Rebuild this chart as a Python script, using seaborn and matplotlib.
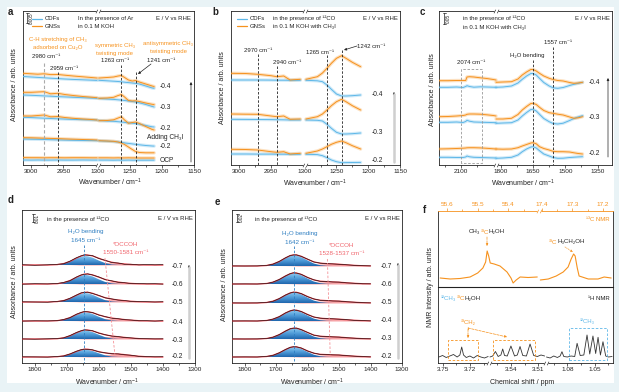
import numpy as np
import matplotlib
matplotlib.use('Agg')
import matplotlib.pyplot as plt
import seaborn as sns
from matplotlib.patches import Rectangle, FancyArrowPatch
from matplotlib.lines import Line2D
from matplotlib.path import Path
from matplotlib.colors import LinearSegmentedColormap
from matplotlib.offsetbox import TextArea, HPacker, AnnotationBbox

sns.set_theme(style='white')
plt.rcParams['font.family'] = ['Liberation Sans', 'DejaVu Sans']
plt.rcParams.update({'mathtext.fontset': 'custom', 'mathtext.rm': 'Liberation Sans',
                     'mathtext.it': 'Liberation Sans:italic', 'mathtext.bf': 'Liberation Sans:bold',
                     'axes.linewidth': 0.6, 'axes.edgecolor': '#222222'})

ORANGE = '#f6921e'; BLUE = '#5db7e8'; RED = '#e8343f'; PINK = '#f7a3a6'
TBLUE = '#2f7fc1'; TRED = '#f0646c'; DARK = '#222222'
W, H = 619, 392

# ---------------- data (spectra, arb. units = depth below top) -------------
pot3 = ['-0.4', '-0.3', '-0.2']
# panel a
a_wn_L = [3013, 3000, 2990, 2980, 2970, 2959, 2948, 2935, 2920, 2905, 2898]
a_wn_R = [1298, 1285, 1275, 1268, 1263, 1258, 1252, 1246, 1241, 1235, 1225, 1215, 1212]
a_keys = ['-0.4', '-0.3', '-0.2', 'add', 'OCP']
a_GNS_L = {'-0.4': [73.3, 73.8, 74.2, 73.8, 74.6, 74.5, 75.2, 76, 76.8, 77.6, 78],
           '-0.3': [92.3, 92.3, 92, 91.7, 93.8, 93.3, 94.5, 95.5, 96.5, 97.3, 97.7],
           '-0.2': [116, 116, 115.5, 115, 116.8, 116.5, 117.5, 118.3, 119, 119.6, 120],
           'add': [137.7, 137.8, 138, 138.2, 138.4, 138.6, 138.9, 139.2, 139.5, 139.8, 140],
           'OCP': [157.6, 157.7, 157.7, 157.8, 157.7, 157.7, 157.8, 157.7, 157.7, 157.8, 157.8]}
a_GNS_R = {'-0.4': [78, 77.5, 77, 76, 75.5, 77.5, 80, 81, 80.5, 82, 84, 86, 86.5],
           '-0.3': [98.3, 98, 97.3, 95.5, 94.5, 97, 100.5, 101, 100.8, 101.5, 103, 104.3, 104.5],
           '-0.2': [120.7, 120.5, 119.8, 118, 116.8, 120, 123.3, 122.5, 122, 123.5, 126.5, 129.5, 130],
           'add': [140.7, 141, 141.3, 142, 143, 144.5, 147, 149.5, 151.5, 152.5, 152.8, 152.8, 152.8],
           'OCP': [157.8, 157.8, 157.9, 157.8, 157.9, 157.9, 157.8, 157.9, 157.9, 158, 158, 158, 158]}
a_CDF_L = {'-0.4': [76.5, 77, 77.4, 77.8, 78.2, 78.6, 79, 79.4, 79.8, 80.2, 80.4],
           '-0.3': [95, 95.3, 95.6, 95.9, 96.2, 96.6, 96.9, 97.3, 97.7, 98.1, 98.3],
           '-0.2': [117.3, 117.6, 117.9, 118.2, 118.5, 118.8, 119.1, 119.4, 119.7, 119.9, 120],
           'add': [139, 139.2, 139.3, 139.5, 139.7, 139.9, 140.1, 140.3, 140.5, 140.6, 140.7],
           'OCP': [160.0, 160.1, 160.0, 160.1, 160.1, 160.0, 160.1, 160.1, 160.0, 160.1, 160.1]}
a_CDF_R = {'-0.4': [80.3, 80.8, 81.2, 81.5, 81.8, 82.2, 82.6, 83, 83.4, 84, 86, 88, 88.3],
           '-0.3': [98.5, 99, 99.4, 99.8, 100.1, 100.5, 101, 101.5, 102, 102.8, 104.5, 106.5, 107],
           '-0.2': [120.5, 121, 121.3, 121.7, 122, 122.4, 122.8, 123.2, 123.6, 124.2, 125.5, 126.8, 127],
           'add': [140.8, 141.2, 141.6, 142, 142.4, 142.9, 143.4, 143.9, 144.3, 144.8, 145.5, 146, 146.1],
           'OCP': [160.1, 160.1, 160.2, 160.1, 160.2, 160.2, 160.1, 160.2, 160.2, 160.2, 160.2, 160.2, 160.2]}
# panel b
b_wn_L = [3013, 2990, 2971, 2950, 2941, 2930, 2920, 2904]
b_wn_R = [1298, 1280, 1272, 1265, 1258, 1250, 1242, 1235, 1225, 1212]
b_GNS_L = {'-0.4': [73.3, 73.5, 74.3, 75.7, 76.7, 76, 80, 79.3],
           '-0.3': [114, 114.2, 114.3, 116, 116.7, 116, 119.3, 119],
           '-0.2': [149.3, 149.5, 150, 151.7, 152.3, 151.7, 154, 153.3]}
b_GNS_R = {'-0.4': [79.3, 76.7, 73, 68.3, 63.3, 58.3, 55.7, 58.3, 62.3, 66.7],
           '-0.3': [119, 116.7, 114, 110, 105.7, 101.7, 99.3, 101.7, 105.7, 110],
           '-0.2': [153.3, 151, 149, 146.7, 144.3, 142.3, 141, 142.7, 145.7, 149]}
b_CDF_L = {'-0.4': [80, 80, 80, 80.1, 80.2, 80.2, 80.3, 80.3],
           '-0.3': [119.3, 119.4, 119.5, 119.6, 119.7, 119.8, 120, 120],
           '-0.2': [154, 154, 154.1, 154.1, 154.2, 154.2, 154.3, 154.3]}
b_CDF_R = {'-0.4': [80.3, 80.8, 81.7, 85, 89.3, 94, 96, 96, 95.7, 95],
           '-0.3': [120, 120.3, 121, 124.3, 128.3, 132.3, 134, 134, 133.7, 133],
           '-0.2': [154.3, 154.6, 155.7, 157.7, 160, 161.7, 162.7, 162.6, 162.5, 162.4]}
# panel c
c_wn_L = [2202, 2160, 2120, 2090, 2078, 2072, 2060, 2040, 2010, 1980, 1950, 1937]
c_wn_R = [1822, 1790, 1750, 1720, 1700, 1680, 1660, 1650, 1635, 1620, 1600, 1575, 1557, 1535, 1510, 1480, 1460, 1440, 1420]
c_GNS_L = {'-0.4': [80.7, 80.7, 80.5, 80.5, 80.5, 77, 76.7, 77, 77.8, 78.5, 79.5, 80],
           '-0.3': [116.7, 116.5, 116, 115.5, 115, 114.3, 114, 114, 114.2, 114.8, 115.5, 116],
           '-0.2': [149, 148.8, 148.5, 148.2, 148, 147.8, 147.7, 147.7, 147.9, 148.3, 148.8, 149]}
c_CDF_L = {'-0.4': [87.3, 87.3, 87, 87.5, 86.5, 85.7, 86.5, 87.2, 86.8, 87, 87.2, 87.3],
           '-0.3': [122.3, 122.3, 122, 122.5, 121.5, 120.3, 121.2, 122, 122.2, 122.4, 122.6, 122.7],
           '-0.2': [157.3, 157.3, 157.5, 157.5, 157, 156, 156.8, 157.3, 157.5, 157.7, 157.9, 158]}
c_GNS_R = {'-0.4': [82.3, 82, 81.7, 79, 75, 72, 69.5, 69.5, 71, 73.3, 76, 78.3, 79.5, 80.5, 81, 82.5, 83.3, 83, 82.3],
           '-0.3': [119, 119, 118.3, 114.5, 110, 106.5, 103.5, 103.3, 104.5, 107.3, 110.5, 112.7, 113.3, 114.2, 115, 117, 118.3, 117.8, 116.7],
           '-0.2': [149, 149.2, 149, 147.7, 146, 144.5, 143, 142.7, 143.8, 146.7, 148.5, 150, 151.3, 151.7, 151.7, 152, 152.8, 153.5, 154]}
c_CDF_R = {'-0.4': [87.3, 87, 86, 83, 79.3, 76, 73.5, 73.5, 75, 78.3, 82.5, 86, 87.8, 88.3, 87.5, 85.5, 84.3, 83.3, 82.3],
           '-0.3': [123.3, 123, 122.7, 120, 116, 112.5, 109.5, 109.3, 111, 114.3, 118.5, 121.7, 123.5, 124, 123.2, 120.5, 118.5, 117, 115.7],
           '-0.2': [158.3, 158, 157.3, 155, 151.7, 149, 147, 146.7, 148, 150.7, 154, 156, 157.5, 158.3, 158.2, 157.5, 157.2, 156.9, 156.7]}
# panels d, e (peak fits + raw, heights above each baseline)
pot6 = ['-0.7', '-0.6', '-0.5', '-0.4', '-0.3', '-0.2']
de_wn = [1840, 1800, 1760, 1730, 1710, 1690, 1670, 1655, 1645, 1635, 1620, 1600, 1580, 1560, 1540, 1520, 1500, 1475, 1450, 1425, 1400]
d_base = [265, 284, 302, 321, 339, 357]
d_blue = {'-0.7': [0, 0, 0, 0.4, 1.4, 3.5, 6.6, 8.4, 9, 8.8, 7.4, 4.4, 1.9, 0.5, 0.1, 0, 0, 0, 0, 0, 0],
          '-0.6': [0, 0, 0, 0.3, 1.3, 3.4, 6.5, 8.4, 9.1, 8.9, 7.6, 4.6, 2.0, 0.6, 0.1, 0, 0, 0, 0, 0, 0],
          '-0.5': [0, 0, 0, 0.4, 1.4, 3.5, 6.6, 8.5, 9, 8.8, 7.3, 4.3, 1.8, 0.5, 0.1, 0, 0, 0, 0, 0, 0],
          '-0.4': [0, 0, 0, 0.35, 1.3, 3.4, 6.4, 8.1, 8.7, 8.5, 7.1, 4.2, 1.8, 0.5, 0.1, 0, 0, 0, 0, 0, 0],
          '-0.3': [0, 0, 0, 0.3, 1.2, 3.2, 6.2, 7.9, 8.5, 8.3, 7.0, 4.2, 1.8, 0.5, 0.1, 0, 0, 0, 0, 0, 0],
          '-0.2': [0, 0, 0, 0.3, 1.1, 2.9, 5.5, 7.0, 7.5, 7.3, 6.1, 3.7, 1.6, 0.45, 0.1, 0, 0, 0, 0, 0, 0]}
d_red = {'-0.7': [0, 0, 0, 0, 0.04, 0.13, 0.35, 0.65, 0.9, 1.2, 1.7, 2.3, 2.5, 2.25, 1.65, 1.0, 0.5, 0.16, 0.04, 0, 0],
         '-0.6': [0, 0, 0, 0, 0.03, 0.1, 0.28, 0.55, 0.8, 1.05, 1.55, 2.2, 2.5, 2.35, 1.8, 1.15, 0.6, 0.2, 0.05, 0.01, 0],
         '-0.5': [0, 0, 0, 0, 0.02, 0.08, 0.22, 0.45, 0.68, 0.92, 1.4, 2.05, 2.45, 2.4, 1.95, 1.3, 0.72, 0.26, 0.07, 0.01, 0],
         '-0.4': [0, 0, 0, 0, 0.02, 0.06, 0.17, 0.37, 0.57, 0.8, 1.25, 1.9, 2.4, 2.45, 2.05, 1.45, 0.85, 0.32, 0.09, 0.02, 0],
         '-0.3': [0, 0, 0, 0, 0.01, 0.05, 0.13, 0.3, 0.48, 0.7, 1.12, 1.8, 2.35, 2.5, 2.15, 1.6, 0.98, 0.4, 0.12, 0.03, 0],
         '-0.2': [0, 0, 0, 0, 0, 0.02, 0.08, 0.2, 0.32, 0.5, 0.9, 1.6, 2.4, 2.9, 2.9, 2.4, 1.6, 0.75, 0.25, 0.06, 0.01]}
d_raw = {'-0.7': [0.3, -0.3, 0.2, 0.7, 1.2, 3.9, 7.3, 9.2, 10.3, 9.8, 9.4, 6.4, 4.7, 2.4, 2.0, 0.7, 0.8, 0.1, 0.5, 0.2, 0.4],
         '-0.6': [-0.2, 0.3, 0.1, 0.5, 1.6, 3.3, 7.0, 9.1, 9.6, 10.2, 9.0, 7.1, 4.3, 3.2, 1.7, 1.3, 0.4, 0.5, 0.2, 0.3, -0.1],
         '-0.5': [0.2, 0, -0.2, 0.6, 1.3, 3.8, 6.9, 9.2, 9.5, 9.9, 8.5, 6.6, 4.1, 3.1, 1.9, 1.5, 0.6, 0.4, 0.3, 0, 0.3],
         '-0.4': [-0.1, 0.2, 0.1, 0.3, 1.5, 3.3, 6.8, 8.6, 9.5, 9.1, 8.5, 5.9, 4.4, 2.8, 2.3, 1.3, 1.0, 0.2, 0.3, -0.1, 0.4],
         '-0.3': [0.1, -0.2, 0.2, 0.4, 1.1, 3.5, 6.5, 8.3, 9.2, 8.8, 8.3, 5.8, 4.3, 2.9, 2.4, 1.5, 1.1, 0.3, 0.3, 0.1, 0.2],
         '-0.2': [0.2, 0.1, -0.1, 0.5, 1.0, 3.1, 5.8, 7.4, 7.9, 7.6, 7.2, 5.1, 4.2, 3.2, 3.1, 2.2, 1.8, 0.6, 0.4, 0.2, 0.3]}
e_base = [266, 284, 303, 321, 339, 357]
e_blue = {'-0.7': [0, 0, 0, 0.5, 1.9, 4.4, 8.0, 10.2, 10.8, 10.6, 9.0, 5.6, 2.5, 0.8, 0.2, 0, 0, 0, 0, 0, 0],
          '-0.6': [0, 0, 0, 0.5, 1.8, 4.4, 8.0, 10.1, 10.8, 10.6, 8.9, 5.5, 2.5, 0.8, 0.2, 0, 0, 0, 0, 0, 0],
          '-0.5': [0, 0, 0, 0.5, 1.8, 4.3, 7.8, 9.9, 10.5, 10.3, 8.7, 5.4, 2.4, 0.8, 0.2, 0, 0, 0, 0, 0, 0],
          '-0.4': [0, 0, 0, 0.5, 1.8, 4.3, 7.9, 10.0, 10.6, 10.4, 8.8, 5.5, 2.4, 0.8, 0.2, 0, 0, 0, 0, 0, 0],
          '-0.3': [0, 0, 0, 0.5, 1.8, 4.3, 7.9, 10.0, 10.6, 10.4, 8.8, 5.5, 2.4, 0.8, 0.2, 0, 0, 0, 0, 0, 0],
          '-0.2': [0, 0, 0, 0.5, 1.7, 4.1, 7.4, 9.4, 10, 9.8, 8.3, 5.1, 2.3, 0.75, 0.2, 0, 0, 0, 0, 0, 0]}
e_red = {'-0.7': [0, 0, 0, 0, 0.01, 0.04, 0.12, 0.22, 0.32, 0.45, 0.7, 1.15, 1.62, 2.0, 2.2, 2.08, 1.75, 1.15, 0.62, 0.27, 0.1],
         '-0.6': [0, 0, 0, 0, 0.01, 0.04, 0.11, 0.2, 0.3, 0.42, 0.66, 1.1, 1.58, 1.98, 2.2, 2.1, 1.8, 1.2, 0.66, 0.3, 0.11],
         '-0.5': [0, 0, 0, 0, 0.01, 0.04, 0.1, 0.19, 0.28, 0.4, 0.63, 1.06, 1.55, 1.96, 2.2, 2.12, 1.84, 1.25, 0.7, 0.32, 0.12],
         '-0.4': [0, 0, 0, 0, 0.01, 0.04, 0.1, 0.19, 0.28, 0.4, 0.63, 1.06, 1.55, 1.96, 2.2, 2.12, 1.84, 1.25, 0.7, 0.32, 0.12],
         '-0.3': [0, 0, 0, 0, 0.01, 0.03, 0.09, 0.17, 0.26, 0.38, 0.6, 1.02, 1.5, 1.94, 2.2, 2.14, 1.88, 1.3, 0.74, 0.35, 0.13],
         '-0.2': [0, 0, 0, 0, 0.01, 0.03, 0.08, 0.16, 0.24, 0.36, 0.58, 0.98, 1.46, 1.92, 2.2, 2.16, 1.92, 1.35, 0.78, 0.38, 0.15]}
e_raw = {'-0.7': [0.1, 0, 0.1, 0.6, 1.8, 4.6, 8.2, 10.5, 11.0, 11.1, 9.6, 6.9, 4.0, 2.9, 2.3, 2.1, 1.7, 1.2, 0.6, 0.3, 0.1],
         '-0.6': [0, 0.1, 0, 0.4, 1.9, 4.5, 8.0, 10.4, 11.2, 10.9, 9.7, 6.5, 4.2, 2.7, 2.5, 2.0, 1.9, 1.1, 0.7, 0.2, 0.2],
         '-0.5': [0.1, 0, 0.1, 0.6, 1.7, 4.4, 8.0, 10.0, 10.9, 10.6, 9.4, 6.3, 4.1, 2.7, 2.5, 2.0, 1.9, 1.2, 0.8, 0.3, 0.1],
         '-0.4': [0, 0.1, 0, 0.5, 1.9, 4.3, 8.1, 10.1, 11.0, 10.7, 9.5, 6.4, 4.0, 2.9, 2.3, 2.2, 1.8, 1.3, 0.6, 0.4, 0.1],
         '-0.3': [0.1, 0, 0.1, 0.4, 1.8, 4.4, 7.9, 10.3, 10.8, 10.9, 9.3, 6.6, 3.8, 2.8, 2.5, 2.1, 1.9, 1.2, 0.8, 0.3, 0.2],
         '-0.2': [0, 0.1, 0, 0.6, 1.6, 4.2, 7.5, 9.7, 10.2, 10.1, 9.0, 6.0, 3.9, 2.6, 2.5, 2.1, 2.0, 1.3, 0.8, 0.4, 0.1]}
# panel f  (13C top, 1H bottom)
f13_L_ppm = [55.623, 55.59, 55.558, 55.525, 55.50, 55.483, 55.474, 55.469, 55.464, 55.459, 55.446, 55.427, 55.404, 55.391, 55.384, 55.374, 55.361, 55.335, 55.305]
f13_L_y = [278, 279, 278.5, 277, 273, 268, 262, 251, 256, 263, 264, 266, 272, 278, 283, 280, 277, 277.5, 277]
f13_R_ppm = [17.405, 17.379, 17.353, 17.33, 17.314, 17.304, 17.296, 17.291, 17.284, 17.278, 17.248, 17.216, 17.196, 17.173]
f13_R_y = [280, 279, 276, 272, 267, 259, 254, 256, 268, 276, 279, 279, 277, 278]
f1_s1_ppm = [3.754, 3.750, 3.746, 3.742, 3.738, 3.734, 3.731, 3.729, 3.727, 3.724, 3.720, 3.716, 3.712, 3.708, 3.704, 3.700]
f1_s1_y = [357, 355.5, 357.5, 356, 354.5, 357, 355, 347, 355, 357.5, 356, 358, 355.5, 357, 358, 356.5]
f1_s2_ppm = [3.563, 3.560, 3.557, 3.554, 3.551, 3.549, 3.547, 3.544, 3.540, 3.536, 3.533, 3.530, 3.527, 3.523, 3.519, 3.515, 3.511, 3.507, 3.503]
f1_s2_y = [357, 356, 351.5, 356.5, 355, 349, 355.5, 356, 346, 356, 355, 346.5, 355.5, 356, 344, 355.5, 356.5, 355, 356]
f1_s3_ppm = [1.103, 1.099, 1.095, 1.091, 1.088, 1.086, 1.084, 1.080, 1.076, 1.072, 1.0694, 1.066, 1.062, 1.0585, 1.0555, 1.052, 1.049, 1.0464, 1.0438, 1.041, 1.038, 1.035, 1.031]
f1_s3_y = [357, 358, 356, 357.5, 356, 351.7, 356.5, 357, 356, 356.5, 343.3, 355.5, 355, 335, 354, 336, 353.5, 337.3, 355, 341.7, 356, 357, 356.5]

# ---------------- helpers ----------------
fig = plt.figure(figsize=(W / 100, H / 100), dpi=100)
fig.patch.set_facecolor('#e9f3f6')
fig.add_artist(Rectangle((7 / W, 1 - 383 / H), 607 / W, 376 / H, transform=fig.transFigure,
                         fc='white', ec='none', zorder=-5))

SLASH = Path([(-1.7, -1.2), (-0.5, 1.2), (0.5, -1.2), (1.7, 1.2)],
             [Path.MOVETO, Path.LINETO, Path.MOVETO, Path.LINETO])


def add_ax(x0, y0, x1, y1):
    ax = fig.add_axes([x0 / W, 1 - y1 / H, (x1 - x0) / W, (y1 - y0) / H])
    ax.set_facecolor('none')
    ax.set_ylim(-y1, -y0)
    ax.tick_params(axis='y', left=False, labelleft=False)
    ax.tick_params(axis='x', which='both', bottom=True, direction='out', width=0.5,
                   labelsize=4.6, pad=1.2, colors=DARK)
    ax.tick_params(axis='x', which='major', length=2)
    ax.tick_params(axis='x', which='minor', length=1.2)
    for s in ax.spines.values():
        s.set_linewidth(0.6); s.set_color(DARK)
    return ax


def broken(ax, segs, ticks, labels, minor, marks=(0, 1), mcolor=DARK):
    asc = sorted((lo, hi) for hi, lo in segs)
    xs, ts, t = [], [], 0.0
    for i, (lo, hi) in enumerate(asc):
        if i:
            t += (lo - asc[i - 1][1]) * 1e-6
        xs += [lo, hi]; ts += [t, t + hi - lo]; t += hi - lo
    xs = np.array(xs, float); ts = np.array(ts, float)

    def fwd(v):
        v = np.asarray(v, float)
        out = np.interp(v, xs, ts)
        out = np.where(v < xs[0], ts[0] + v - xs[0], out)
        return np.where(v > xs[-1], ts[-1] + v - xs[-1], out)

    def inv(v):
        v = np.asarray(v, float)
        out = np.interp(v, ts, xs)
        out = np.where(v < ts[0], xs[0] + v - ts[0], out)
        return np.where(v > ts[-1], xs[-1] + v - ts[-1], out)

    ax.set_xscale('function', functions=(fwd, inv))
    ax.set_xlim(segs[0][0], segs[-1][1])
    ax.set_xticks(ticks); ax.set_xticklabels(labels); ax.set_xticks(minor, minor=True)
    for hi, lo in segs[:-1]:
        for yy in marks:
            c = mcolor if yy == 1 else DARK
            ax.plot([lo], [yy], transform=ax.get_xaxis_transform(), marker='s', ms=2.4, mfc='white',
                    mec='none', clip_on=False, zorder=7)
            ax.plot([lo], [yy], transform=ax.get_xaxis_transform(), marker=SLASH, ms=3.6, mfc='none',
                    mec=c, mew=0.45, clip_on=False, zorder=8)


def spec(ax, x, depth, color, band=True, lw=0.7, z=3):
    y = -np.asarray(depth, float)
    if band:
        sns.lineplot(x=x, y=y, ax=ax, color=color, lw=2.4, alpha=0.28, sort=False,
                     estimator=None, legend=False, zorder=z)
    sns.lineplot(x=x, y=y, ax=ax, color=color, lw=lw, sort=False, estimator=None,
                 legend=False, zorder=z + 0.5)


def T(x, y, s, fs=4.3, color=DARK, ha='left', va='center', **kw):
    fig.text(x / W, 1 - y / H, s, fontsize=fs, color=color, ha=ha, va=va, **kw)


def arrow(x0, y0, x1, y1, color=DARK, lw=0.5, ls='-', ms=3.5):
    fig.add_artist(FancyArrowPatch((x0 / W, 1 - y0 / H), (x1 / W, 1 - y1 / H),
                                   transform=fig.transFigure, arrowstyle='-|>', mutation_scale=ms,
                                   color=color, lw=lw, linestyle=ls, shrinkA=0, shrinkB=0))


def gray_arrow(x, y0, y1):
    fig.add_artist(Line2D([x / W, x / W], [1 - y0 / H, 1 - (y1 + 2) / H], transform=fig.transFigure,
                          color='#cfcfcf', lw=1.8))
    arrow(x, y1 + 3, x, y1, color=DARK, lw=0.4, ms=3)


def sbar(x, y0, y1, label):
    for xs_, ys_ in (([x, x], [y0, y1]), ([x - 1.5, x + 1.5], [y0, y0]), ([x - 1.5, x + 1.5], [y1, y1])):
        fig.add_artist(Line2D([v / W for v in xs_], [1 - v / H for v in ys_], transform=fig.transFigure,
                              color=DARK, lw=0.5))
    T(x + 4, (y0 + y1) / 2, label, fs=3.4, rotation=90, ha='center')


def legline(x0, x1, y, color):
    fig.add_artist(Line2D([x0 / W, x1 / W], [1 - y / H, 1 - y / H], transform=fig.transFigure,
                          color=color, lw=0.9))


def ctext(ax, x, y, parts, fs=4.4, ha='left'):
    boxes = [TextArea(s, textprops=dict(color=c, fontsize=fs)) for s, c in parts]
    pk = HPacker(children=boxes, align='baseline', pad=0, sep=0)
    al = {'left': (0, 0.5), 'center': (0.5, 0.5), 'right': (1, 0.5)}[ha]
    ab = AnnotationBbox(pk, (x / W, 1 - y / H), xycoords='figure fraction', box_alignment=al,
                        frameon=False, pad=0)
    ax.add_artist(ab)


def vdash(ax, x, d0, d1, color=DARK, lw=0.6):
    ax.plot([x, x], [-d0, -d1], color=color, lw=lw, ls=(0, (3, 2)), zorder=5)


def ylab(x, y, s):
    T(x, y, s, fs=5, rotation=90, ha='center')


def xlab(x, y, s):
    T(x, y, s, fs=5, ha='center')


ab_segs = [(3013, 2897), (1300, 1150)]
ab_ticks = [3000, 2950, 1300, 1250, 1200, 1150]
ab_minor = [2975, 2925, 1275, 1225, 1175]

# ---------------- panel a ----------------
ax = add_ax(23, 11, 194, 165)
for k in a_keys:
    spec(ax, a_wn_L, a_CDF_L[k], BLUE); spec(ax, a_wn_R, a_CDF_R[k], BLUE)
    spec(ax, a_wn_L, a_GNS_L[k], ORANGE); spec(ax, a_wn_R, a_GNS_R[k], ORANGE)
broken(ax, ab_segs, ab_ticks, [str(t) for t in ab_ticks], ab_minor)
ax.set_ylim(-165, -11)
vdash(ax, 2980, 63, 165, color='#aaaaaa', lw=0.8)
vdash(ax, 2959, 72, 165)
vdash(ax, 1263, 65, 165)
vdash(ax, 1241, 72, 165)
T(8, 12, 'a', fs=7, weight='bold')
sbar(27, 13, 23, '0.005')
legline(32, 42, 19, BLUE); T(45, 19, 'CDFs')
legline(32, 42, 26, ORANGE); T(45, 26, 'GNSs')
T(78, 18.5, 'In the presence of Ar'); T(78, 26.5, 'in 0.1 M KOH')
T(191, 18, 'E / V vs RHE', ha='right')
T(58, 39, 'C-H stretching of CH₃', color=ORANGE, ha='center')
T(58, 47, 'adsorbed on Cu₂O', color=ORANGE, ha='center')
T(46, 57, '2980 cm⁻¹', ha='center'); T(64, 69, '2959 cm⁻¹', ha='center')
T(115, 45, 'symmetric CH₃', color=ORANGE, ha='center')
T(115, 53, 'twisting mode', color=ORANGE, ha='center')
T(115, 61, '1263 cm⁻¹', ha='center')
T(168, 43, 'antisymmetric CH₃', color=ORANGE, ha='center')
T(168, 51, 'twisting mode', color=ORANGE, ha='center')
T(161, 60, '1241 cm⁻¹', ha='center')
arrow(151, 64, 138, 74)
for lab, yy in zip(['-0.4', '-0.3', '-0.2'], [86, 107.5, 128.5]):
    T(160, yy, lab, fs=4.8)
T(147, 137.5, 'Adding CH₃I', fs=4.8)
T(160, 147, '-0.2', fs=4.8); T(160, 160, 'OCP', fs=4.8)
arrow(191, 162, 191, 82)
ylab(15, 85, 'Absorbance / arb. units'); xlab(110, 182, 'Wavenumber / cm$^{-1}$')

# ---------------- panel b ----------------
ax = add_ax(231, 11, 400, 165)
for k in pot3:
    spec(ax, b_wn_L, b_CDF_L[k], BLUE); spec(ax, b_wn_R, b_CDF_R[k], BLUE)
    spec(ax, b_wn_L, b_GNS_L[k], ORANGE); spec(ax, b_wn_R, b_GNS_R[k], ORANGE)
broken(ax, ab_segs, ab_ticks, [str(t) for t in ab_ticks], ab_minor)
ax.set_ylim(-165, -11)
vdash(ax, 2970, 54, 165); vdash(ax, 2940, 66, 165)
vdash(ax, 1265, 55, 165); vdash(ax, 1242, 50, 165)
T(212, 12, 'b', fs=7, weight='bold')
legline(237, 247, 19, BLUE); T(250, 19, 'CDFs')
legline(237, 247, 26, ORANGE); T(250, 26, 'GNSs')
T(273, 18.5, 'in the presence of ¹²CO'); T(273, 26.5, 'in 0.1 M KOH with CH₃I')
T(398, 19, 'E / V vs RHE', ha='right')
T(258, 50, '2970 cm⁻¹', ha='center'); T(287, 63, '2940 cm⁻¹', ha='center')
T(320, 52, '1265 cm⁻¹', ha='center'); T(371, 46, '1242 cm⁻¹', ha='center')
arrow(357, 46, 344, 50)
for lab, yy in zip(pot3, [95, 132.7, 160.7]):
    T(372, yy, lab, fs=4.8)
gray_arrow(394, 162, 92)
ylab(223, 88, 'Absorbance / arb. units'); xlab(315, 183, 'Wavenumber / cm$^{-1}$')

# ---------------- panel c ----------------
ax = add_ax(439, 11, 612, 165)
for k in pot3:
    spec(ax, c_wn_L, c_CDF_L[k], BLUE); spec(ax, c_wn_R, c_CDF_R[k], BLUE)
    spec(ax, c_wn_L, c_GNS_L[k], ORANGE); spec(ax, c_wn_R, c_GNS_R[k], ORANGE)
broken(ax, [(2202, 1937), (1822, 1283)], [2100, 1800, 1650, 1500, 1350],
       ['2100', '1800', '1650', '1500', '1350'], [2175, 2025, 1725, 1575, 1425])
ax.set_ylim(-165, -11)
vdash(ax, 1650, 60, 165); vdash(ax, 1557, 47, 165)
ax.plot([2100, 2100, 2000, 2000, 2100], [-163, -69, -69, -163, -163], color='#999999', lw=0.6,
        ls=(0, (3, 2)), zorder=5)
T(420, 12, 'c', fs=7, weight='bold')
sbar(444, 13, 24, '0.05')
T(463, 18.5, 'in the presence of ¹²CO'); T(463, 27, 'in 0.1 M KOH with CH₃I')
T(610, 19, 'E / V vs RHE', ha='right')
T(558, 43, '1557 cm⁻¹', ha='center'); T(527, 56, 'H₂O bending', ha='center')
T(471, 62, '2074 cm⁻¹', ha='center')
for lab, yy in zip(pot3, [82, 117, 154]):
    T(589, yy, lab, fs=4.8)
arrow(608, 157, 608, 78)
ylab(433, 90, 'Absorbance / arb. units'); xlab(523, 183, 'Wavenumber / cm$^{-1}$')

# ---------------- panels d, e ----------------
cmap_b = LinearSegmentedColormap.from_list('hb', ['#1f66ad', '#4f9bd8', '#8ccaf0'])


def fit_panel(ax, base, blue, red, raw):
    x = np.array(de_wn, float)
    for k, b0 in zip(pot6, base):
        yb = -float(b0)
        bl = np.array(blue[k]); rd = np.array(red[k])
        ax.fill_between(x, yb, yb + rd, color=PINK, lw=0, zorder=1)
        poly = ax.fill_between(x, yb, yb + bl, color='none', lw=0, zorder=2)
        im = ax.imshow(np.linspace(0, 1, 64).reshape(-1, 1), extent=[x.min(), x.max(), yb, yb + bl.max()],
                       origin='lower', aspect='auto', cmap=cmap_b, zorder=2)
        im.set_clip_path(poly.get_paths()[0], transform=ax.transData)
        sns.lineplot(x=x, y=yb + bl + rd, ax=ax, color=RED, lw=0.9, sort=False, estimator=None,
                     legend=False, zorder=3)
        sns.lineplot(x=x, y=yb + np.array(raw[k]), ax=ax, color='#1a1a1a', lw=0.45, sort=False,
                     estimator=None, legend=False, zorder=4)
    ax.set_xlim(1840, 1300)
    ax.set_xticks([1800, 1700, 1600, 1500, 1400, 1300])
    ax.set_xticks([1750, 1650, 1550, 1450, 1350], minor=True)


ax = add_ax(22, 210, 195, 363)
fit_panel(ax, d_base, d_blue, d_red, d_raw)
ax.set_ylim(-363, -210)
vdash(ax, 1645, 245, 363, color=TBLUE)
ax.plot([1581, 1550], [-258, -355], color='#f59096', lw=0.6, ls=(0, (3, 2)), zorder=5)
T(8, 200, 'd', fs=7, weight='bold')
sbar(33, 214, 222, '0.01')
T(47, 219, 'in the presence of ¹²CO'); T(193, 219, 'E / V vs RHE', ha='right')
T(86, 232, 'H₂O bending', color=TBLUE, ha='center', fs=4.5)
T(86, 241, '1645 cm⁻¹', color=TBLUE, ha='center', fs=4.5)
T(126, 245, '*OCCOH', color=TRED, ha='center', fs=4.5)
T(126, 252.5, '1550-1581 cm⁻¹', color=TRED, ha='center', fs=4.5)
for lab, yy in zip(pot6, [266, 285, 303, 322, 340, 357]):
    T(172, yy, lab, fs=4.8)
gray_arrow(189, 358, 265)
ylab(15, 282, 'Absorbance / arb. units'); xlab(107, 382, 'Wavenumber / cm$^{-1}$')

ax = add_ax(232, 210, 402, 363)
fit_panel(ax, e_base, e_blue, e_red, e_raw)
ax.set_ylim(-363, -210)
vdash(ax, 1642, 246, 363, color=TBLUE)
ax.plot([1537, 1528], [-259, -355], color='#f59096', lw=0.6, ls=(0, (3, 2)), zorder=5)
T(215, 202, 'e', fs=7, weight='bold')
sbar(237, 214, 222, '0.02')
T(255, 219, 'in the presence of ¹³CO'); T(400, 219, 'E / V vs RHE', ha='right')
T(300, 233, 'H₂O bending', color=TBLUE, ha='center', fs=4.5)
T(300, 242, '1642 cm⁻¹', color=TBLUE, ha='center', fs=4.5)
T(342, 245.5, '*OCCOH', color=TRED, ha='center', fs=4.5)
T(342, 253.5, '1528-1537 cm⁻¹', color=TRED, ha='center', fs=4.5)
for lab, yy in zip(pot6, [266, 284, 303, 321, 339, 357]):
    T(381, yy, lab, fs=4.8)
gray_arrow(398, 358, 263)
ylab(225, 285, 'Absorbance / arb. units'); xlab(312, 382, 'Wavenumber / cm$^{-1}$')

# ---------------- panel f ----------------
axt = add_ax(438, 211, 613, 287)
sns.lineplot(x=f13_L_ppm, y=-np.array(f13_L_y, float), ax=axt, color=ORANGE, lw=0.8, sort=False,
             estimator=None, legend=False)
sns.lineplot(x=f13_R_ppm, y=-np.array(f13_R_y, float), ax=axt, color=ORANGE, lw=0.8, sort=False,
             estimator=None, legend=False)
broken(axt, [(55.63, 55.30), (17.41, 17.167)], [55.6, 55.5, 55.4, 17.4, 17.3, 17.2],
       ['55.6', '55.5', '55.4', '17.4', '17.3', '17.2'], [55.55, 55.45, 55.35, 17.35, 17.25],
       marks=(1,), mcolor=ORANGE)
axt.set_ylim(-287, -211)
axt.tick_params(axis='x', which='both', bottom=False, top=True, labelbottom=False, labeltop=True,
                colors=ORANGE)
axt.spines['top'].set_color(ORANGE)
axt.spines['bottom'].set_linewidth(0.8)

axb = add_ax(438, 287, 613, 363)
for xx, yy in ((f1_s1_ppm, f1_s1_y), (f1_s2_ppm, f1_s2_y), (f1_s3_ppm, f1_s3_y)):
    sns.lineplot(x=xx, y=-np.array(yy, float), ax=axb, color='#333333', lw=0.6, sort=False,
                 estimator=None, legend=False)
broken(axb, [(3.755, 3.699), (3.564, 3.502), (1.104, 1.03)], [3.75, 3.72, 3.54, 3.51, 1.08, 1.05],
       ['3.75', '3.72', '3.54', '3.51', '1.08', '1.05'], [3.735, 3.705, 3.555, 3.525, 1.095, 1.065, 1.035],
       marks=(0,))
axb.set_ylim(-363, -287)
axb.spines['top'].set_visible(False)
axb.plot([3.744, 3.711, 3.711, 3.744, 3.744], [-360, -360, -340, -340, -360], color=ORANGE, lw=0.6,
         ls=(0, (3, 2)))
axb.plot([3.5596, 3.5135, 3.5135, 3.5596, 3.5596], [-360, -360, -340, -340, -360], color=ORANGE, lw=0.6,
         ls=(0, (3, 2)))
axb.plot([1.078, 1.0365, 1.0365, 1.078, 1.078], [-360, -360, -328, -328, -360], color=BLUE, lw=0.6,
         ls=(0, (3, 2)))
T(423, 210, 'f', fs=7, weight='bold')
T(610, 220, '¹³C NMR', color=ORANGE, ha='right')
ctext(axt, 487, 232, [('CH₃', DARK), ('¹³C', ORANGE), ('H₂OH', DARK)], ha='center')
arrow(487, 237, 487, 246, color=ORANGE, lw=0.5, ls='--', ms=3)
ctext(axt, 567, 242, [('¹³C', ORANGE), ('H₃CH₂OH', DARK)], ha='center')
arrow(565, 247, 573, 252, color=ORANGE, lw=0.5, ls=':', ms=3)
ctext(axb, 441, 298, [('¹²CH₃', BLUE), ('¹³C', ORANGE), ('H₂OH', DARK)], ha='left')
T(610, 298, '¹H NMR', ha='right')
T(468, 322, '¹³CH₂', color=ORANGE, ha='center')
fig.add_artist(Line2D([468 / W, 468 / W], [1 - 327 / H, 1 - 330 / H], transform=fig.transFigure,
                      color=ORANGE, lw=0.5, ls='--'))
arrow(468, 329, 468, 338, color=ORANGE, lw=0.5, ls='--', ms=3)
arrow(468, 328, 507, 337, color=ORANGE, lw=0.5, ls='--', ms=3)
T(587, 321, '¹²CH₃', color=BLUE, ha='center')
ylab(431, 287, 'NMR intensity / arb. units'); xlab(522, 383, 'Chemical shift / ppm')

fig.savefig('out.png', dpi=100, facecolor=fig.get_facecolor())
